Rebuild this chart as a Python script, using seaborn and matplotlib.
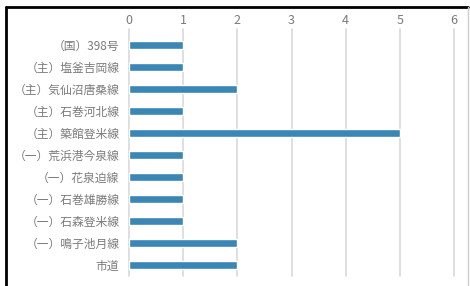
import matplotlib
matplotlib.use("Agg")
import matplotlib.pyplot as plt
import seaborn as sns
import pandas as pd
from matplotlib.lines import Line2D

categories = ["（国）398号", "（主）塩釜吉岡線", "（主）気仙沼唐桑線", "（主）石巻河北線",
              "（主）築館登米線", "（一）荒浜港今泉線", "（一）花泉迫線", "（一）石巻雄勝線",
              "（一）石森登米線", "（一）鳴子池月線", "市道"]
values = [1, 1, 2, 1, 5, 1, 1, 1, 1, 2, 2]
xticks = [0, 1, 2, 3, 4, 5, 6]

sns.set_theme(style="white")
plt.rcParams['font.family'] = ['Noto Sans CJK JP', 'DejaVu Sans']

df = pd.DataFrame({"cat": categories, "val": values})

fig = plt.figure(figsize=(4.7, 2.86), dpi=100)
ax = fig.add_axes([129/470, 1-276/286, (454-129)/470, (276-34)/286])
sns.barplot(data=df, x="val", y="cat", color="#3a86b4", saturation=1, width=0.36, ax=ax, zorder=3)

ax.set_xlim(0, 6)
ax.set_xticks(xticks)
ax.xaxis.tick_top()
ax.tick_params(axis='x', length=0, pad=5, labelsize=9, labelcolor="#7a7a7a")
ax.tick_params(axis='y', length=0, pad=7, labelsize=8.5, labelcolor="#7a7a7a")
ax.set_xlabel("")
ax.set_ylabel("")
for v in xticks:
    ax.axvline(v, color="#d9d9d9", lw=1.2, zorder=1, ymin=0, ymax=1.02, clip_on=False)
for s in ax.spines.values():
    s.set_visible(False)

fig.add_artist(Line2D([6/470, 468/470], [1-7/286, 1-7/286], color="black", lw=2))
fig.add_artist(Line2D([6/470, 6/470], [0, 1-7/286], color="black", lw=2))
fig.add_artist(Line2D([468/470, 468/470], [0, 1-7/286], color="#cccccc", lw=1))

fig.savefig("out.png", dpi=100)
